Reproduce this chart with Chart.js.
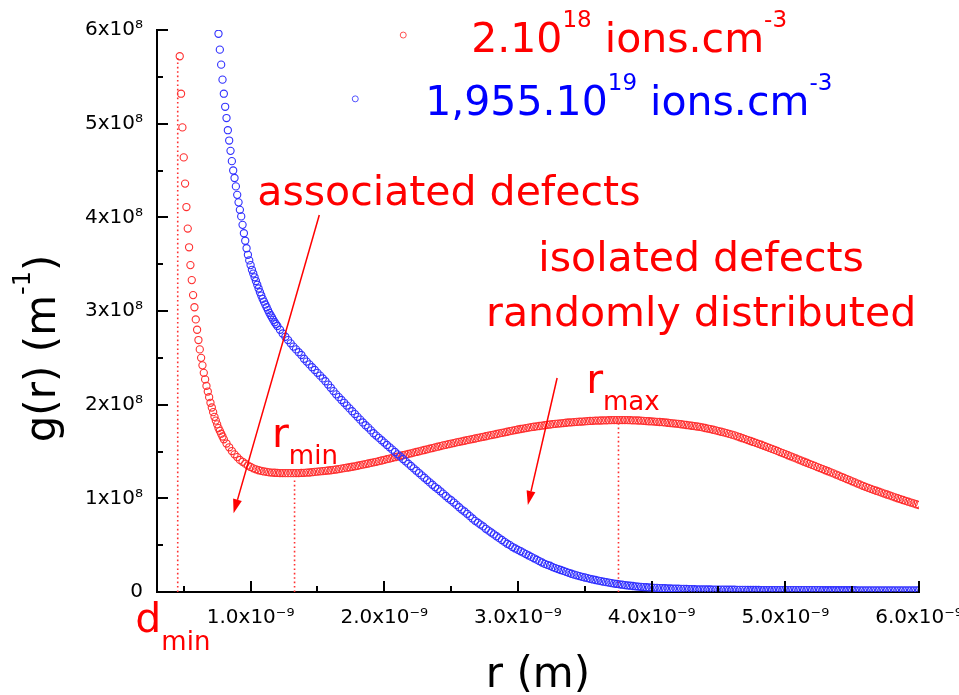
<!DOCTYPE html>
<html><head><meta charset="utf-8">
<script src="https://cdn.jsdelivr.net/npm/chart.js@4.4.1/dist/chart.umd.min.js"></script>
<style>html,body{margin:0;padding:0;background:#fff;overflow:hidden;width:959px;height:695px}canvas{display:block}</style>
</head><body>
<canvas id="c" width="1000" height="695" style="width:1000px;height:695px"></canvas>
<script>
// ---------- DATA (r in 1e-9 m, g(r) in 1e8 m^-1) ----------
const redR = [
0.47,0.48,0.49,0.50,0.51,0.52,0.53,0.54,0.55,0.56,0.57,0.58,0.59,0.60,0.61,0.62,0.63,0.64,0.65,0.66,0.67,0.68,0.69,0.70,0.71,0.72,0.73,0.74,0.75,0.76,0.77,0.78,0.79,0.80,
0.82,0.84,0.86,0.88,0.90,0.92,0.94,0.96,0.98,1.00,
1.02,1.04,1.06,1.08,1.10,1.12,1.14,1.16,1.18,1.20,
1.22,1.24,1.26,1.28,1.30,1.32,1.34,1.36,1.38,1.40,
1.42,1.44,1.46,1.48,1.50,1.52,1.54,1.56,1.58,1.60,
1.62,1.64,1.66,1.68,1.70,1.72,1.74,1.76,1.78,1.80,
1.82,1.84,1.86,1.88,1.90,1.92,1.94,1.96,1.98,2.00,
2.02,2.04,2.06,2.08,2.10,2.12,2.14,2.16,2.18,2.20,
2.22,2.24,2.26,2.28,2.30,2.32,2.34,2.36,2.38,2.40,
2.42,2.44,2.46,2.48,2.50,2.52,2.54,2.56,2.58,2.60,
2.62,2.64,2.66,2.68,2.70,2.72,2.74,2.76,2.78,2.80,
2.82,2.84,2.86,2.88,2.90,2.92,2.94,2.96,2.98,3.00,
3.02,3.04,3.06,3.08,3.10,3.12,3.14,3.16,3.18,3.20,
3.22,3.24,3.26,3.28,3.30,3.32,3.34,3.36,3.38,3.40,
3.42,3.44,3.46,3.48,3.50,3.52,3.54,3.56,3.58,3.60,
3.62,3.64,3.66,3.68,3.70,3.72,3.74,3.76,3.78,3.80,
3.82,3.84,3.86,3.88,3.90,3.92,3.94,3.96,3.98,4.00,
4.02,4.04,4.06,4.08,4.10,4.12,4.14,4.16,4.18,4.20,
4.22,4.24,4.26,4.28,4.30,4.32,4.34,4.36,4.38,4.40,
4.42,4.44,4.46,4.48,4.50,4.52,4.54,4.56,4.58,4.60,
4.62,4.64,4.66,4.68,4.70,4.72,4.74,4.76,4.78,4.80,
4.82,4.84,4.86,4.88,4.90,4.92,4.94,4.96,4.98,5.00,
5.02,5.04,5.06,5.08,5.10,5.12,5.14,5.16,5.18,5.20,
5.22,5.24,5.26,5.28,5.30,5.32,5.34,5.36,5.38,5.40,
5.42,5.44,5.46,5.48,5.50,5.52,5.54,5.56,5.58,5.60,
5.62,5.64,5.66,5.68,5.70,5.72,5.74,5.76,5.78,5.80,
5.82,5.84,5.86,5.88,5.90,5.92,5.94,5.96,5.98,6.00];
const redG = [
5.72,5.32,4.96,4.64,4.36,4.11,3.88,3.68,3.49,3.33,3.17,3.04,2.91,2.80,2.69,2.59,2.50,2.42,2.34,2.27,2.20,2.14,2.08,2.02,1.97,1.92,1.87,1.83,1.79,1.75,1.72,1.69,1.66,1.63,
1.585,1.545,1.505,1.47,1.44,1.41,1.39,1.37,1.35,1.335,
1.32,1.31,1.30,1.293,1.287,1.282,1.278,1.275,1.273,1.271,
1.27,1.27,1.269,1.269,1.269,1.269,1.27,1.27,1.271,1.272,
1.274,1.276,1.279,1.282,1.285,1.288,1.291,1.294,1.297,1.30,
1.304,1.308,1.312,1.317,1.322,1.327,1.332,1.337,1.342,1.348,
1.354,1.36,1.366,1.372,1.378,1.384,1.39,1.397,1.404,1.411,
1.418,1.425,1.432,1.439,1.446,1.453,1.46,1.467,1.474,1.481,
1.488,1.495,1.502,1.509,1.516,1.523,1.53,1.537,1.544,1.551,
1.558,1.565,1.571,1.578,1.584,1.59,1.597,1.603,1.609,1.615,
1.621,1.627,1.633,1.639,1.645,1.651,1.657,1.663,1.669,1.675,
1.681,1.687,1.693,1.699,1.705,1.711,1.717,1.723,1.729,1.735,
1.74,1.745,1.75,1.755,1.76,1.764,1.768,1.772,1.776,1.78,
1.784,1.788,1.792,1.795,1.798,1.801,1.804,1.807,1.81,1.812,
1.814,1.816,1.818,1.82,1.822,1.824,1.826,1.828,1.829,1.83,
1.831,1.832,1.833,1.834,1.835,1.836,1.836,1.836,1.836,1.836,
1.835,1.834,1.833,1.832,1.831,1.829,1.827,1.825,1.823,1.821,
1.819,1.817,1.815,1.813,1.81,1.807,1.804,1.801,1.798,1.795,
1.791,1.787,1.783,1.779,1.775,1.771,1.767,1.763,1.757,1.751,
1.745,1.739,1.732,1.725,1.718,1.711,1.704,1.696,1.688,1.68,
1.672,1.662,1.652,1.642,1.632,1.622,1.612,1.602,1.592,1.582,
1.572,1.561,1.55,1.539,1.528,1.517,1.506,1.494,1.483,1.472,
1.46,1.449,1.437,1.426,1.414,1.403,1.391,1.38,1.368,1.357,
1.346,1.334,1.323,1.312,1.30,1.289,1.277,1.266,1.254,1.242,
1.23,1.218,1.206,1.194,1.182,1.17,1.158,1.146,1.134,1.123,
1.112,1.101,1.091,1.081,1.071,1.061,1.051,1.041,1.031,1.021,
1.011,1.001,0.992,0.982,0.973,0.964,0.955,0.946,0.937,0.928];

const blueR = [
0.76,0.77,0.78,0.79,0.80,0.81,0.82,0.83,0.84,0.85,
0.86,0.87,0.88,0.89,0.90,0.91,0.92,0.93,0.94,0.95,
0.96,0.97,0.98,0.99,1.00,1.01,1.02,1.03,1.04,1.05,
1.06,1.07,1.08,1.09,1.10,1.11,1.12,1.13,1.14,1.15,
1.16,1.17,1.18,1.19,1.20,
1.22,1.24,1.26,1.28,1.30,1.32,1.34,1.36,1.38,1.40,
1.42,1.44,1.46,1.48,1.50,1.52,1.54,1.56,1.58,1.60,
1.62,1.64,1.66,1.68,1.70,1.72,1.74,1.76,1.78,1.80,
1.82,1.84,1.86,1.88,1.90,1.92,1.94,1.96,1.98,2.00,
2.02,2.04,2.06,2.08,2.10,2.12,2.14,2.16,2.18,2.20,
2.22,2.24,2.26,2.28,2.30,2.32,2.34,2.36,2.38,2.40,
2.42,2.44,2.46,2.48,2.50,2.52,2.54,2.56,2.58,2.60,
2.62,2.64,2.66,2.68,2.70,2.72,2.74,2.76,2.78,2.80,
2.82,2.84,2.86,2.88,2.90,2.92,2.94,2.96,2.98,3.00,
3.02,3.04,3.06,3.08,3.10,3.12,3.14,3.16,3.18,3.20,
3.22,3.24,3.26,3.28,3.30,3.32,3.34,3.36,3.38,3.40,
3.42,3.44,3.46,3.48,3.50,3.52,3.54,3.56,3.58,3.60,
3.62,3.64,3.66,3.68,3.70,3.72,3.74,3.76,3.78,3.80,
3.82,3.84,3.86,3.88,3.90,3.92,3.94,3.96,3.98,4.00,
4.02,4.04,4.06,4.08,4.10,4.12,4.14,4.16,4.18,4.20,
4.22,4.24,4.26,4.28,4.30,4.32,4.34,4.36,4.38,4.40,
4.42,4.44,4.46,4.48,4.50,4.52,4.54,4.56,4.58,4.60,
4.62,4.64,4.66,4.68,4.70,4.72,4.74,4.76,4.78,4.80,
4.82,4.84,4.86,4.88,4.90,4.92,4.94,4.96,4.98,5.00,
5.02,5.04,5.06,5.08,5.10,5.12,5.14,5.16,5.18,5.20,
5.22,5.24,5.26,5.28,5.30,5.32,5.34,5.36,5.38,5.40,
5.42,5.44,5.46,5.48,5.50,5.52,5.54,5.56,5.58,5.60,
5.62,5.64,5.66,5.68,5.70,5.72,5.74,5.76,5.78,5.80,
5.82,5.84,5.86,5.88,5.90,5.92,5.94,5.96,5.98,6.00];
const blueG = [
5.96,5.79,5.63,5.47,5.32,5.18,5.06,4.93,4.82,4.71,
4.60,4.50,4.42,4.33,4.24,4.16,4.08,4.01,3.92,3.83,
3.75,3.67,3.60,3.54,3.49,3.44,3.40,3.36,3.32,3.28,
3.24,3.20,3.165,3.13,3.10,3.07,3.04,3.01,2.98,2.955,
2.93,2.905,2.88,2.86,2.84,
2.80,2.76,2.725,2.69,2.655,2.62,2.59,2.56,2.53,2.49,
2.46,2.43,2.40,2.37,2.34,2.31,2.28,2.25,2.215,2.18,
2.145,2.11,2.08,2.05,2.02,1.99,1.96,1.93,1.90,1.87,
1.84,1.81,1.78,1.755,1.725,1.695,1.67,1.645,1.62,1.595,
1.57,1.545,1.52,1.495,1.47,1.445,1.42,1.395,1.37,1.345,
1.32,1.295,1.27,1.245,1.22,1.195,1.17,1.145,1.12,1.10,
1.075,1.05,1.025,1.00,0.98,0.955,0.93,0.905,0.88,0.86,
0.835,0.81,0.785,0.76,0.74,0.72,0.70,0.675,0.655,0.635,
0.615,0.595,0.575,0.555,0.535,0.515,0.50,0.48,0.465,0.45,
0.435,0.42,0.405,0.39,0.375,0.36,0.345,0.33,0.315,0.30,
0.29,0.28,0.265,0.255,0.245,0.235,0.225,0.215,0.205,0.195,
0.185,0.178,0.17,0.162,0.155,0.148,0.141,0.134,0.128,0.122,
0.116,0.11,0.105,0.10,0.095,0.09,0.086,0.082,0.078,0.074,
0.07,0.067,0.064,0.061,0.058,0.055,0.053,0.051,0.049,0.047,
0.045,0.044,0.042,0.041,0.04,0.039,0.038,0.037,0.036,0.035,
0.034,0.033,0.032,0.031,0.031,0.03,0.029,0.029,0.028,0.028,
0.027,0.027,0.026,0.026,0.025,0.025,0.025,0.024,0.024,0.024,
0.024,0.023,0.023,0.023,0.023,0.022,0.022,0.022,0.022,0.022,
0.021,0.021,0.021,0.021,0.021,0.021,0.02,0.02,0.02,0.02,
0.02,0.02,0.02,0.02,0.02,0.02,0.02,0.02,0.02,0.02,
0.02,0.02,0.02,0.019,0.019,0.019,0.019,0.019,0.019,0.019,
0.019,0.019,0.019,0.019,0.019,0.019,0.018,0.018,0.018,0.018,
0.018,0.018,0.018,0.018,0.018,0.018,0.018,0.018,0.018,0.018,
0.018,0.018,0.018,0.018,0.017,0.017,0.017,0.017,0.017,0.017];

const xTicks = [1,2,3,4,5,6];
const xMinorTicks = [0.5,1.5,2.5,3.5,4.5,5.5];
const yTicks = [0,1,2,3,4,5,6];
const yMinorTicks = [0.5,1.5,2.5,3.5,4.5,5.5];

// reference lines (d_min, r_min, r_max)
const dminLineR = [0.455,0.455], dminLineG = [0,5.72];
const rminLineR = [1.329,1.329], rminLineG = [0,1.21];
const rmaxLineR = [3.752,3.752], rmaxLineG = [0,1.80];

// arrows [fromR, fromG, toR, toG]
const arrowAssociated = [1.514,4.025,0.873,0.84];
const arrowIsolated = [3.293,2.285,3.074,0.929];

// legend texts [base, sup, base, sup]
const legendRed = ['2.10','18',' ions.cm','-3'];
const legendBlue = ['1,955.10','19',' ions.cm','-3'];

// ---------- CHART ----------
const FONT = '"DejaVu Sans"';
Chart.defaults.font.family = 'DejaVu Sans';
const RED = '#ff0000', BLUE = '#0000ff';

function pts(xs, ys){ return xs.map((x,i)=>({x:x, y:ys[i]})); }

function rich(ctx, segs, x, y, align){
  let w = 0;
  segs.forEach(s=>{ ctx.font = s[1]+'px '+FONT; w += ctx.measureText(s[0]).width; });
  let cx = align==='center' ? x - w/2 : x;
  ctx.textAlign = 'left'; ctx.textBaseline = 'alphabetic';
  segs.forEach(s=>{ ctx.font = s[1]+'px '+FONT; ctx.fillText(s[0], cx, y + s[2]); cx += ctx.measureText(s[0]).width; });
}
function arrow(ctx, x1,y1,x2,y2){
  const a = Math.atan2(y2-y1, x2-x1), L = 14, W = 4.5;
  const bx = x2 - L*Math.cos(a), by = y2 - L*Math.sin(a);
  ctx.beginPath(); ctx.moveTo(x1,y1); ctx.lineTo(bx,by); ctx.stroke();
  ctx.beginPath(); ctx.moveTo(x2,y2);
  ctx.lineTo(bx + W*Math.sin(a), by - W*Math.cos(a));
  ctx.lineTo(bx - W*Math.sin(a), by + W*Math.cos(a));
  ctx.closePath(); ctx.fill();
}

const decor = {
  id: 'decor',
  afterDraw(chart){
    const ctx = chart.ctx, xs = chart.scales.x, ys = chart.scales.y, ca = chart.chartArea;
    const P = (r,g)=>[xs.getPixelForValue(r), ys.getPixelForValue(g)];
    ctx.save();
    // inward ticks
    ctx.strokeStyle = '#000'; ctx.lineWidth = 2;
    ctx.beginPath();
    xTicks.forEach(v=>{ const x = Math.round(xs.getPixelForValue(v)); ctx.moveTo(x, ca.bottom); ctx.lineTo(x, ca.bottom-11); });
    xMinorTicks.forEach(v=>{ const x = Math.round(xs.getPixelForValue(v)); ctx.moveTo(x, ca.bottom); ctx.lineTo(x, ca.bottom-6); });
    yTicks.forEach(v=>{ const y = Math.round(ys.getPixelForValue(v)); ctx.moveTo(ca.left, y); ctx.lineTo(ca.left+11, y); });
    yMinorTicks.forEach(v=>{ const y = Math.round(ys.getPixelForValue(v)); ctx.moveTo(ca.left, y); ctx.lineTo(ca.left+6, y); });
    ctx.stroke();

    // arrows
    ctx.strokeStyle = RED; ctx.fillStyle = RED; ctx.lineWidth = 1.5;
    [arrowAssociated, arrowIsolated].forEach(a=>{
      const p1 = P(a[0],a[1]), p2 = P(a[2],a[3]);
      arrow(ctx, p1[0],p1[1],p2[0],p2[1]);
    });

    // annotation texts
    ctx.fillStyle = RED;
    let p = P(1.05, 4.131); rich(ctx, [['associated defects',41,0]], p[0], p[1], 'left');
    p = P(4.37, 3.427); rich(ctx, [['isolated defects',41,0]], p[0], p[1], 'center');
    p = P(4.37, 2.84); rich(ctx, [['randomly distributed',41,0]], p[0], p[1], 'center');
    p = P(1.16, 1.548); rich(ctx, [['r',41,0],['min',26,17]], p[0], p[1], 'left');
    p = P(3.51, 2.124); rich(ctx, [['r',41,0],['max',26,17]], p[0], p[1], 'left');
    p = P(0.138, -0.427); rich(ctx, [['d',41,0],['min',26,18]], p[0], p[1], 'left');

    // legend
    ctx.lineWidth = 1;
    p = P(2.142, 5.946); ctx.strokeStyle = '#ff5050'; ctx.beginPath(); ctx.arc(p[0], p[1], 3, 0, Math.PI*2); ctx.stroke();
    p = P(1.783, 5.265); ctx.strokeStyle = '#5050ff'; ctx.beginPath(); ctx.arc(p[0], p[1], 3, 0, Math.PI*2); ctx.stroke();
    ctx.fillStyle = RED;
    p = P(2.65, 5.768);
    rich(ctx, [[legendRed[0],41,0],[legendRed[1],23,-25],[legendRed[2],41,0],[legendRed[3],23,-25]], p[0], p[1], 'left');
    ctx.fillStyle = BLUE;
    p = P(2.306, 5.092);
    rich(ctx, [[legendBlue[0],41,0],[legendBlue[1],23,-25],[legendBlue[2],41,0],[legendBlue[3],23,-25]], p[0], p[1], 'left');

    // axis titles
    ctx.fillStyle = '#000';
    rich(ctx, [['r (m)',42,0]], (ca.left+ca.right)/2, ca.bottom + 95, 'center');
    ctx.save();
    ctx.translate(ca.left - 102, ys.getPixelForValue(2.6));
    ctx.rotate(-Math.PI/2);
    rich(ctx, [['g(r) (m',42,0],['-1',24,-25],[')',42,0]], 0, 0, 'center');
    ctx.restore();
    ctx.restore();
  }
};

const dotted = {showLine:true, pointRadius:0, borderColor:'#ff3030', borderWidth:1.6, borderDash:[1.6,2.8], fill:false};

new Chart(document.getElementById('c'), {
  type: 'scatter',
  data: { datasets: [
    {label:'1,955.10^19 ions.cm^-3', data: pts(blueR, blueG), borderColor:'#3030ff', backgroundColor:'rgba(0,0,0,0)', pointRadius:3.6, pointBorderWidth:1.1, order:1},
    {label:'2.10^18 ions.cm^-3', data: pts(redR, redG), borderColor:'#ff3030', backgroundColor:'rgba(0,0,0,0)', pointRadius:3.6, pointBorderWidth:1.1, order:2},
    Object.assign({label:'dmin', data: pts(dminLineR, dminLineG), order:3}, dotted),
    Object.assign({label:'rmin', data: pts(rminLineR, rminLineG), order:3}, dotted),
    Object.assign({label:'rmax', data: pts(rmaxLineR, rmaxLineG), order:3}, dotted)
  ]},
  options: {
    responsive: false, animation: false, devicePixelRatio: 1,
    layout: { padding: { top: 30, right: 81, left: 0, bottom: 0 } },
    plugins: { legend: {display:false}, tooltip: {enabled:false} },
    scales: {
      x: {
        type:'linear', min:0.3, max:6,
        afterFit(s){ s.height = 103; },
        afterBuildTicks(s){ s.ticks = xTicks.map(v=>({value:v})); },
        grid:{display:true, drawOnChartArea:false, drawTicks:false},
        border:{display:true, color:'#000', width:2},
        ticks:{ padding:14, color:'#000', font:{size:20}, maxRotation:0, autoSkip:false,
          callback:(v)=> Number(v).toFixed(1)+'x10\u207B\u2079' }
      },
      y: {
        type:'linear', min:0, max:6,
        afterFit(s){ s.width = 157; },
        afterBuildTicks(s){ s.ticks = yTicks.map(v=>({value:v})); },
        grid:{display:true, drawOnChartArea:false, drawTicks:false},
        border:{display:true, color:'#000', width:2},
        ticks:{ padding:14, color:'#000', font:{size:20}, autoSkip:false,
          callback:(v)=> v===0 ? '0' : v+'x10\u2078' }
      }
    }
  },
  plugins: [decor]
});
</script>
</body></html>
